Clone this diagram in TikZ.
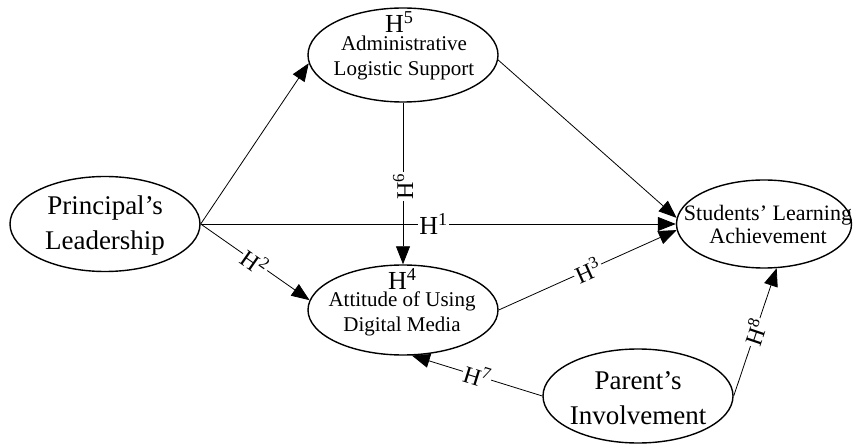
\documentclass[tikz,border=0pt]{standalone}
\usepackage{fontspec}
\setmainfont{Liberation Serif}
\usetikzlibrary{shapes.geometric,arrows.meta}
\begin{document}
\begin{tikzpicture}[x=1pt,y=-1pt,
  ell/.style={draw,ellipse,line width=1.4pt,inner sep=0pt},
  bigtxt/.style={font=\fontsize{27}{35}\selectfont,align=center,inner sep=0pt},
  midtxt/.style={font=\fontsize{21}{25}\selectfont,align=center,inner sep=0pt},
  conn/.style={line width=0.8pt,-{Triangle[length=18pt,width=14pt]}},
  hlab/.style={fill=white,inner sep=1.5pt,font=\fontsize{24}{24}\selectfont},
  hbig/.style={inner sep=0pt,font=\fontsize{26}{26}\selectfont}]
\useasboundingbox (0,0) rectangle (854,446);

% ellipses
\node[ell,minimum width=190pt,minimum height=95pt] (P) at (105,224) {};
\node[bigtxt] (Pt) at (105,226) {Principal’s\\Leadership};

\node[ell,minimum width=190pt,minimum height=94pt] (A) at (403,55) {};
\node[midtxt] (At) at (404,58) {Administrative\\Logistic Support};
\node[hbig,anchor=base west] (A5) at (385,33) {H\textsuperscript{5}};

\node[ell,minimum width=190pt,minimum height=90pt] (C) at (403,310) {};
\node[midtxt] (Ct) at (402,314) {Attitude of Using\\Digital Media};
\node[hbig,anchor=base west] (C4) at (388,290) {H\textsuperscript{4}};

\node[ell,minimum width=175pt,minimum height=88pt] (S) at (764,224) {};
\node[font=\fontsize{22}{23}\selectfont,align=center,inner sep=0pt] (St) at (768,224) {Students’ Learning\\Achievement};

\node[ell,minimum width=190pt,minimum height=94pt] (Pa) at (638,396) {};
\node[bigtxt] (Pat) at (638,398) {Parent’s\\Involvement};

% connectors
\draw[conn] (P.east) -- (A.185);
\draw[conn] (P.east) -- node[hlab,pos=0.49,font=\fontsize{26}{26}\selectfont]{H\textsuperscript{1}} (S.west);
\draw[conn] (P.east) -- node[hlab,sloped,pos=0.5]{H\textsuperscript{2}} (C.174);
\draw[conn] (A.south) -- node[hlab,rotate=90,pos=0.52]{H\textsuperscript{6}} (C.north);
\draw[conn] (A.-3) -- (S.176);
\draw[conn] (C.east) -- node[hlab,sloped,pos=0.5]{H\textsuperscript{3}} (S.184);
\draw[conn] (Pa.west) -- node[hlab,sloped,pos=0.5]{H\textsuperscript{7}} (C.-79);
\draw[conn] (Pa.east) -- node[hlab,sloped,pos=0.5]{H\textsuperscript{8}} (S.-74);
\end{tikzpicture}
\end{document}
